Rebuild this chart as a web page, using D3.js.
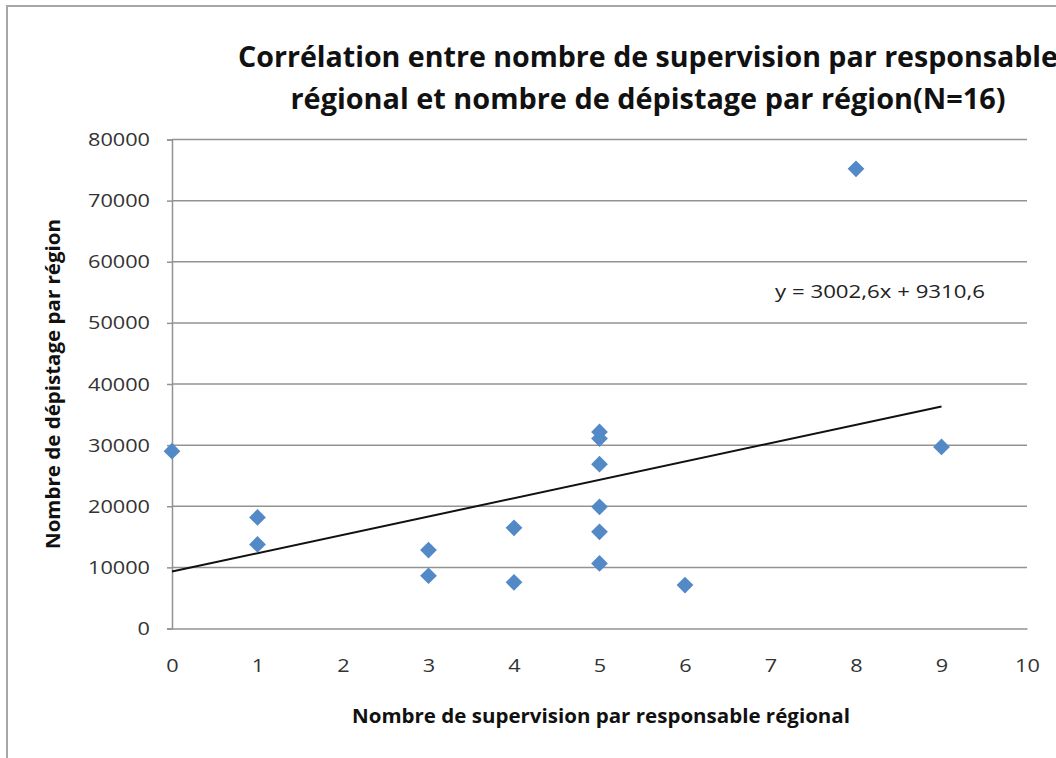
<!DOCTYPE html>
<html>
<head>
<meta charset="utf-8">
<script src="https://cdn.jsdelivr.net/npm/d3@7"></script>
<style>
  html, body { margin: 0; padding: 0; background: #fff; }
  svg { display: block; }
  text { font-family: "Open Sans", "Noto Sans", sans-serif; }
</style>
</head>
<body>
<svg id="chart" width="1056" height="758"></svg>
<script>
// Supervisions per regional manager vs. screenings per region (16 regions)
const supervisions = [0, 1, 1, 3, 3, 4, 4, 5, 5, 5, 5, 5, 5, 6, 8, 9];
const screenings = [29000, 18170, 13760, 12830, 8630, 16470, 7550, 32160,
                    31080, 26880, 19900, 15820, 10650, 7110, 75200, 29710];
const xTicks = [0, 1, 2, 3, 4, 5, 6, 7, 8, 9, 10];
const yTicks = [0, 10000, 20000, 30000, 40000, 50000, 60000, 70000, 80000];
// Linear trend: y = 3002,6x + 9310,6
const trendSlope = 3002.6;
const trendIntercept = 9310.6;
const trendRange = [0, 9];

const titleLines = [
  "Corrélation entre nombre de supervision par responsable",
  "régional et nombre de dépistage par région(N=16)"
];
const xTitle = "Nombre de supervision par responsable régional";
const yTitle = "Nombre de dépistage par région";
const equationLabel = "y = 3002,6x + 9310,6";

const FONT = "'Open Sans', 'Noto Sans', sans-serif";
const DIGIT_W = 12.4;

const svg = d3.select("#chart");

// outer chart frame
svg.append("rect")
  .attr("x", 7).attr("y", 6)
  .attr("width", 1200).attr("height", 900)
  .attr("fill", "none")
  .attr("stroke", "#a6a6a6")
  .attr("stroke-width", 2);

const plot = { left: 172, right: 1027, top: 139.5, bottom: 628.5 };

const x = d3.scaleLinear().domain([0, 10]).range([plot.left, plot.right]);
const y = d3.scaleLinear().domain([0, 80000]).range([plot.bottom, plot.top]);

// title
svg.selectAll("text.title")
  .data(titleLines)
  .join("text")
  .attr("class", "title")
  .attr("x", 648)
  .attr("y", (d, i) => 67 + i * 42)
  .attr("text-anchor", "middle")
  .attr("font-size", 28)
  .attr("font-weight", "bold")
  .attr("fill", "#111")
  .attr("textLength", (d, i) => i === 0 ? 820 : 715)
  .attr("lengthAdjust", "spacingAndGlyphs")
  .text(d => d);

// horizontal gridlines
svg.append("g")
  .selectAll("line")
  .data(yTicks.filter(v => v > 0))
  .join("line")
  .attr("x1", plot.left).attr("x2", plot.right)
  .attr("y1", d => y(d)).attr("y2", d => y(d))
  .attr("stroke", "#939393")
  .attr("stroke-width", 1.5);

// y axis
const yAxis = d3.axisLeft(y).tickValues(yTicks).tickSize(5).tickPadding(17).tickFormat(d3.format("d"));
const gy = svg.append("g").attr("transform", `translate(${plot.left},0)`).call(yAxis);
gy.select(".domain").attr("stroke", "#939393").attr("stroke-width", 1.5);
gy.selectAll(".tick line").attr("stroke", "#939393").attr("stroke-width", 1.5);
gy.selectAll(".tick text")
  .attr("font-size", 19)
  .attr("font-family", FONT)
  .attr("fill", "#333")
  .attr("textLength", d => String(d).length * DIGIT_W)
  .attr("lengthAdjust", "spacingAndGlyphs");

// x axis
const xAxis = d3.axisBottom(x).tickValues(xTicks).tickSize(0).tickPadding(30).tickFormat(d3.format("d"));
const gx = svg.append("g").attr("transform", `translate(0,${plot.bottom})`).call(xAxis);
gx.select(".domain").attr("stroke", "#939393").attr("stroke-width", 1.5);
gx.selectAll(".tick text")
  .attr("font-size", 19)
  .attr("font-family", FONT)
  .attr("fill", "#333")
  .attr("textLength", d => String(d).length * DIGIT_W)
  .attr("lengthAdjust", "spacingAndGlyphs");

// axis titles
svg.append("text")
  .attr("x", 601).attr("y", 723)
  .attr("text-anchor", "middle")
  .attr("font-size", 20)
  .attr("font-weight", "bold")
  .attr("fill", "#111")
  .attr("textLength", 498)
  .attr("lengthAdjust", "spacingAndGlyphs")
  .text(xTitle);

svg.append("text")
  .attr("transform", "translate(60,384) rotate(-90)")
  .attr("text-anchor", "middle")
  .attr("font-size", 20)
  .attr("font-weight", "bold")
  .attr("fill", "#111")
  .attr("textLength", 330)
  .attr("lengthAdjust", "spacingAndGlyphs")
  .text(yTitle);

// trend line
svg.append("line")
  .attr("x1", x(trendRange[0]))
  .attr("y1", y(trendSlope * trendRange[0] + trendIntercept))
  .attr("x2", x(trendRange[1]))
  .attr("y2", y(trendSlope * trendRange[1] + trendIntercept))
  .attr("stroke", "#111")
  .attr("stroke-width", 2);

// data points as diamonds
const diamond = d3.symbol().type(d3.symbolSquare).size(140);
svg.append("g")
  .selectAll("path")
  .data(supervisions.map((s, i) => [s, screenings[i]]))
  .join("path")
  .attr("d", diamond)
  .attr("transform", d => `translate(${x(d[0])},${y(d[1])}) rotate(45)`)
  .attr("fill", "#5389c6");

// equation label
svg.append("text")
  .attr("x", 880).attr("y", 298)
  .attr("text-anchor", "middle")
  .attr("font-size", 18)
  .attr("fill", "#222")
  .attr("textLength", 210)
  .attr("lengthAdjust", "spacingAndGlyphs")
  .text(equationLabel);
</script>
</body>
</html>
